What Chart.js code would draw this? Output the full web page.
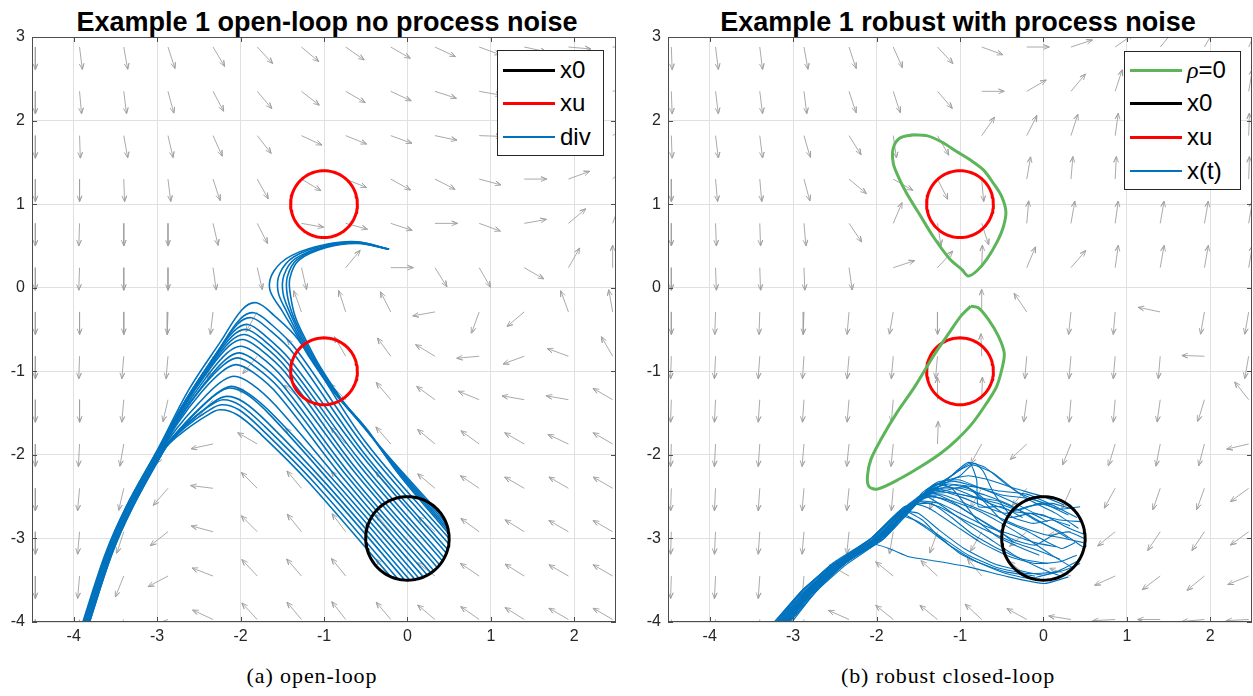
<!DOCTYPE html>
<html>
<head>
<meta charset="utf-8">
<script src="https://cdn.jsdelivr.net/npm/chart.js@4.4.1/dist/chart.umd.min.js"></script>
<style>
  body { margin: 0; width: 1253px; height: 696px; background: #fff; position: relative; overflow: hidden;
         font-family: "Liberation Sans", Arial, sans-serif; }
  .title { position: absolute; top: 9px; font-weight: bold; font-size: 27px; line-height: 27px; color: #000;
           white-space: nowrap; transform: translateX(-50%); }
  .caption { position: absolute; top: 665px; font-family: "Liberation Serif", serif; font-size: 22px; line-height: 22px;
             letter-spacing: 0.9px; color: #000; white-space: nowrap; transform: translateX(-50%); }
  .chartbox { position: absolute; top: 0; }
  .legend { position: absolute; background: #fff; border: 1px solid #262626; box-sizing: border-box; }
  .legend .ln { position: absolute; left: 5px; width: 52px; }
  .legend .lt { position: absolute; left: 62px; font-size: 24px; line-height: 28px; color: #000; white-space: nowrap; }
</style>
</head>
<body>
<div class="title" style="left:327px">Example 1 open-loop no process noise</div>
<div class="title" style="left:958px">Example 1 robust with process noise</div>

<div class="chartbox" style="left:0px"><canvas id="openLoop" width="630" height="652"></canvas></div>
<div class="chartbox" style="left:636px"><canvas id="robust" width="617" height="652"></canvas></div>

<div class="legend" style="left:497px;top:50px;width:107px;height:106px">
  <div class="ln" style="top:18px;height:3px;background:#000"></div><div class="lt" style="top:5px">x0</div>
  <div class="ln" style="top:51px;height:3px;background:#ff0000"></div><div class="lt" style="top:38px">xu</div>
  <div class="ln" style="top:85px;height:2px;background:#0072bd"></div><div class="lt" style="top:72px">div</div>
</div>
<div class="legend" style="left:1124px;top:51px;width:117px;height:139px">
  <div class="ln" style="top:17px;height:3px;background:#5db55a"></div><div class="lt" style="top:4px"><i style="font-family:'Liberation Serif',serif">ρ</i>=0</div>
  <div class="ln" style="top:50px;height:3px;background:#000"></div><div class="lt" style="top:37px">x0</div>
  <div class="ln" style="top:84px;height:3px;background:#ff0000"></div><div class="lt" style="top:71px">xu</div>
  <div class="ln" style="top:118px;height:2px;background:#0072bd"></div><div class="lt" style="top:105px">x(t)</div>
</div>

<div class="caption" style="left:312px">(a) open-loop</div>
<div class="caption" style="left:948px">(b) robust closed-loop</div>

<script>
// axis ticks
const xTicks = [-4, -3, -2, -1, 0, 1, 2];
const yTicks = [-4, -3, -2, -1, 0, 1, 2, 3];

// quiver grid (arrow tails)
const quiverX = [-4.46, -3.93, -3.40, -2.87, -2.33, -1.80, -1.27, -0.74, -0.20, 0.33, 0.86, 1.40, 1.93, 2.46];
const quiverY = [2.88, 2.35, 1.82, 1.30, 0.77, 0.24, -0.29, -0.82, -1.34, -1.87, -2.40, -2.92, -3.45, -3.97];

// arrow directions in degrees, rows top -> bottom
const openLoopAngles = [
  [-90, -83, -80, -72, -59, -47, -40, -35, -30, -25, -20, -12, -5, 0],
  [-90, -85, -83, -75, -62, -50, -38, -30, -25, -18, -10, -3, 5, 12],
  [-90, -88, -80, -77, -66, -52, -25, -22, -20, -12, -2, 8, 20, 35],
  [-90, -90, -88, -83, -72, -61, -31, -22, -29, -27, -15, 0, 20, 45],
  [-90, -92, -90, -90, -77, -63, -10, -15, -18, 0, -20, 10, 40, 70],
  [-90, -92, -90, -90, -82, -77, -77, 50, 0, -58, -60, -30, 60, 90],
  [-90, -90, -90, -92, -97, -120, 110, 108, 117, 190, -110, -140, 110, 100],
  [-90, -92, -95, -95, -105, -130, 130, 120, 126, 149, 185, -160, 160, 120],
  [-90, -90, -95, -103, -130, 150, 140, 135, 130, 144, 158, 170, 170, 150],
  [-90, -93, -100, -120, 192, 150, 135, 132, 131, 140, 144, 150, 155, 150],
  [-90, -95, -103, -131, 173, 135, 130, 130, 132, 140, 146, 150, 150, 150],
  [-90, -95, -108, -142, 165, 135, 129, 127, 130, 138, 144, 148, 150, 150],
  [-90, -95, -112, -152, 159, 133, 131, 129, 131, 143, 146, 148, 150, 150],
  [-90, -95, -115, -160, 155, 133, 130, 128, 130, 140, 145, 148, 150, 150]
];
const robustAngles = [
  [-88, -83, -83, -80, -72, -66, -47, -20, 0, 18, 35, 50, 60, 65],
  [-88, -83, -83, -83, -72, -72, -49, 0, 30, 50, 72, 75, 78, 80],
  [-88, -83, -83, -74, -58, -82, -60, 55, 63, 72, 82, 84, 86, 88],
  [-90, -85, -85, -75, -40, -30, -63, -85, 80, 85, 87, 88, 88, 88],
  [-90, -88, -88, -85, -56, 67, -81, -72, 85, 80, 82, 80, 80, 80],
  [-90, -88, -88, -88, -82, 18, 47, 88, 67, 49, 82, 80, 80, 80],
  [-90, -92, -92, -92, -95, -100, -90, 90, 124, -96, -95, 168, -100, -100],
  [-92, -93, -94, -94, -95, -95, -95, 92, -95, -95, -95, -95, 178, -100],
  [-92, -93, -94, -94, -95, -95, 90, 88, -98, -95, -95, -98, -107, 128],
  [-92, -93, -94, -95, -96, -96, 88, -119, -137, -112, -107, -101, -105, -167],
  [-92, -93, -94, -95, -96, -95, -110, -120, -130, -114, -119, -109, -110, -144],
  [-92, -93, -94, -95, -96, -100, -110, -120, -140, -172, -141, -124, -124, -144],
  [-92, -93, -94, -95, 150, 141, 137, 129, 140, 160, -156, -143, -141, -158],
  [-92, -93, -94, -100, 156, 141, 141, 137, 151, 171, 183, 180, 185, 183]
];

// sets
const x0Set = { cx: 0, cy: -3, r: 0.5 };
const xuSets = [{ cx: -1, cy: 1, r: 0.4 }, { cx: -1, cy: -1, r: 0.4 }];

// rho = 0 level sets (closed)
const rhoUpper = [-1.56,1.83, -1.72,1.79, -1.80,1.67, -1.80,1.49, -1.74,1.33, -1.64,1.13, -1.48,0.87, -1.32,0.61,
  -1.12,0.34, -0.98,0.22, -0.90,0.14, -0.80,0.20, -0.68,0.34, -0.56,0.54, -0.48,0.73, -0.45,0.91, -0.50,1.09,
  -0.60,1.25, -0.72,1.41, -0.88,1.53, -1.04,1.63, -1.23,1.75, -1.40,1.82, -1.56,1.83];
const rhoLower = [-0.87,-0.22, -0.78,-0.24, -0.66,-0.38, -0.54,-0.58, -0.47,-0.78, -0.49,-0.94, -0.56,-1.18, -0.68,-1.38,
  -0.85,-1.62, -1.04,-1.82, -1.23,-1.98, -1.47,-2.14, -1.71,-2.28, -1.99,-2.41, -2.09,-2.38, -2.11,-2.26, -2.07,-2.06,
  -1.95,-1.82, -1.76,-1.50, -1.54,-1.18, -1.32,-0.82, -1.13,-0.54, -0.99,-0.34, -0.87,-0.22];

// open-loop trajectories (x, y pairs)
const divPaths = [
  [0.435,-2.754, -0.20,-2.05, -0.60,-1.58, -0.89,-1.24, -1.17,-0.84, -1.33,-0.56, -1.50,-0.28, -1.65,-0.02, -1.60,0.20, -1.38,0.39, -0.97,0.52, -0.60,0.55, -0.22,0.46],
  [0.466,-2.820, -0.18,-2.09, -0.57,-1.61, -0.86,-1.27, -1.14,-0.86, -1.30,-0.58, -1.44,-0.30, -1.55,-0.05, -1.53,0.17, -1.36,0.37, -0.97,0.51, -0.60,0.545, -0.22,0.46],
  [0.483,-2.869, -0.16,-2.13, -0.54,-1.64, -0.83,-1.30, -1.11,-0.88, -1.27,-0.60, -1.40,-0.32, -1.49,-0.07, -1.48,0.15, -1.34,0.35, -0.97,0.50, -0.60,0.54, -0.22,0.46],
  [0.492,-2.911, -0.14,-2.17, -0.51,-1.67, -0.80,-1.33, -1.08,-0.91, -1.24,-0.62, -1.37,-0.34, -1.44,-0.09, -1.44,0.13, -1.32,0.34, -0.97,0.49, -0.60,0.535, -0.22,0.46],
  [0.497,-2.947, -0.12,-2.21, -0.48,-1.70, -0.77,-1.36, -1.05,-0.94, -1.21,-0.64, -1.34,-0.36, -1.40,-0.10, -1.41,0.11, -1.30,0.33, -0.97,0.48, -0.60,0.53, -0.22,0.46],
  [0.50,-3.00, -0.50,-1.85, -1.31,-0.62, -1.60,-0.33, -1.81,-0.18, -1.98,-0.26, -2.23,-0.63, -2.62,-1.22, -3.00,-1.95, -3.37,-2.62, -3.62,-3.18, -3.91,-4.06],
  [0.50,-3.07, -0.50,-1.92, -1.34,-0.73, -1.63,-0.44, -1.84,-0.30, -2.01,-0.38, -2.26,-0.74, -2.65,-1.33, -3.00,-1.95, -3.37,-2.62, -3.61,-3.18, -3.90,-4.06],
  [0.48,-3.13, -0.52,-1.98, -1.37,-0.78, -1.66,-0.50, -1.87,-0.36, -2.04,-0.44, -2.29,-0.79, -2.67,-1.37, -2.99,-1.95, -3.36,-2.62, -3.61,-3.18, -3.90,-4.06],
  [0.47,-3.18, -0.53,-2.03, -1.41,-0.86, -1.70,-0.58, -1.91,-0.44, -2.08,-0.52, -2.33,-0.85, -2.69,-1.40, -2.99,-1.95, -3.36,-2.62, -3.60,-3.18, -3.89,-4.06],
  [0.44,-3.23, -0.56,-2.08, -1.43,-0.91, -1.72,-0.63, -1.93,-0.50, -2.10,-0.58, -2.35,-0.90, -2.70,-1.43, -2.98,-1.95, -3.35,-2.62, -3.60,-3.18, -3.89,-4.06],
  [0.42,-3.27, -0.58,-2.12, -1.45,-0.96, -1.74,-0.68, -1.95,-0.56, -2.12,-0.64, -2.37,-0.95, -2.71,-1.46, -2.98,-1.95, -3.35,-2.62, -3.60,-3.18, -3.89,-4.06],
  [0.39,-3.32, -0.61,-2.17, -1.47,-1.01, -1.76,-0.74, -1.97,-0.62, -2.14,-0.70, -2.39,-1.00, -2.72,-1.49, -2.97,-1.95, -3.34,-2.62, -3.59,-3.18, -3.88,-4.06],
  [0.36,-3.35, -0.64,-2.20, -1.49,-1.08, -1.78,-0.81, -1.99,-0.70, -2.16,-0.78, -2.41,-1.07, -2.73,-1.53, -2.97,-1.95, -3.34,-2.62, -3.59,-3.18, -3.88,-4.06],
  [0.32,-3.39, -0.68,-2.24, -1.51,-1.15, -1.80,-0.89, -2.01,-0.78, -2.18,-0.86, -2.43,-1.14, -2.74,-1.57, -2.96,-1.95, -3.33,-2.62, -3.58,-3.18, -3.87,-4.06],
  [0.28,-3.41, -0.72,-2.26, -1.53,-1.21, -1.82,-0.95, -2.03,-0.84, -2.20,-0.92, -2.45,-1.18, -2.75,-1.59, -2.96,-1.95, -3.33,-2.62, -3.58,-3.18, -3.87,-4.06],
  [0.24,-3.44, -0.76,-2.29, -1.55,-1.28, -1.84,-1.02, -2.05,-0.92, -2.22,-1.00, -2.47,-1.25, -2.76,-1.63, -2.95,-1.95, -3.32,-2.62, -3.57,-3.18, -3.86,-4.06],
  [0.19,-3.46, -0.81,-2.31, -1.58,-1.41, -1.87,-1.15, -2.08,-1.06, -2.25,-1.14, -2.50,-1.38, -2.77,-1.69, -2.95,-1.95, -3.32,-2.62, -3.57,-3.18, -3.86,-4.06],
  [0.14,-3.48, -0.86,-2.33, -1.61,-1.52, -1.90,-1.27, -2.11,-1.18, -2.28,-1.26, -2.53,-1.49, -2.78,-1.75, -2.94,-1.95, -3.31,-2.62, -3.56,-3.18, -3.85,-4.06],
  [0.09,-3.49, -0.91,-2.34, -1.63,-1.54, -1.92,-1.28, -2.13,-1.20, -2.30,-1.28, -2.55,-1.50, -2.79,-1.76, -2.94,-1.95, -3.31,-2.62, -3.56,-3.18, -3.85,-4.06],
  [0.03,-3.50, -0.97,-2.35, -1.67,-1.62, -1.96,-1.37, -2.17,-1.30, -2.34,-1.38, -2.59,-1.59, -2.81,-1.80, -2.93,-1.95, -3.30,-2.62, -3.55,-3.18, -3.84,-4.06],
  [-0.03,-3.50, -1.03,-2.35, -1.71,-1.66, -2.00,-1.41, -2.21,-1.34, -2.38,-1.42, -2.63,-1.61, -2.83,-1.82, -2.93,-1.95, -3.30,-2.62, -3.55,-3.18, -3.84,-4.06],
  [-0.11,-3.49, -1.11,-2.34, -1.73,-1.71, -2.02,-1.46, -2.23,-1.40, -2.40,-1.48, -2.65,-1.66, -2.84,-1.84, -2.92,-1.95, -3.29,-2.62, -3.54,-3.18, -3.83,-4.06],
  [-0.20,-3.46, -1.20,-2.31, -1.75,-1.76, -2.04,-1.52, -2.25,-1.46, -2.42,-1.54, -2.67,-1.71, -2.85,-1.86, -2.92,-1.95, -3.29,-2.62, -3.54,-3.18, -3.83,-4.06]
];

// robust closed-loop trajectories with process noise (x, y pairs)
const xtPaths = [
  [0.42,-2.88, 0.15,-2.70, -0.15,-2.55, -0.45,-2.35, -0.70,-2.15, -0.90,-2.09, -1.05,-2.20, -1.25,-2.38, -1.45,-2.52, -1.57,-2.62, -1.95,-2.99, -2.40,-3.31, -2.75,-3.61, -3.13,-4.06],
  [0.30,-2.72, 0.05,-2.60, -0.30,-2.45, -0.60,-2.22, -0.85,-2.12, -1.00,-2.25, -1.20,-2.35, -1.42,-2.48, -1.54,-2.60, -1.92,-3.01, -2.37,-3.29, -2.72,-3.63, -3.10,-4.06],
  [0.47,-3.10, 0.20,-2.92, -0.10,-2.78, -0.40,-2.60, -0.70,-2.48, -1.00,-2.40, -1.25,-2.40, -1.45,-2.50, -1.60,-2.63, -1.98,-2.99, -2.43,-3.31, -2.78,-3.60, -3.16,-4.06],
  [0.48,-2.95, 0.25,-2.85, 0.00,-2.72, -0.35,-2.68, -0.65,-2.58, -0.95,-2.45, -1.20,-2.36, -1.40,-2.44, -1.64,-2.61, -2.02,-3.02, -2.47,-3.29, -2.82,-3.63, -3.20,-4.06],
  [0.35,-3.35, 0.10,-3.20, -0.20,-3.00, -0.50,-2.82, -0.80,-2.66, -1.10,-2.55, -1.35,-2.45, -1.62,-2.62, -2.00,-3.00, -2.45,-3.32, -2.80,-3.60, -3.18,-4.06],
  [0.20,-3.45, -0.05,-3.35, -0.35,-3.20, -0.65,-3.00, -0.95,-2.80, -1.20,-2.62, -1.40,-2.50, -1.66,-2.63, -2.04,-2.98, -2.49,-3.30, -2.84,-3.62, -3.22,-4.06],
  [0.30,-3.46, 0.01,-3.54, -0.42,-3.46, -0.90,-3.34, -1.30,-3.27, -1.61,-3.22, -1.85,-3.12, -2.10,-3.06, -2.55,-3.33, -2.90,-3.63, -3.28,-4.06],
  [0.45,-3.25, 0.15,-3.40, -0.20,-3.42, -0.55,-3.35, -0.90,-3.20, -1.20,-3.00, -1.50,-2.80, -1.75,-2.72, -2.07,-3.01, -2.52,-3.31, -2.87,-3.61, -3.25,-4.06],
  [0.10,-2.60, -0.20,-2.52, -0.50,-2.48, -0.75,-2.40, -1.00,-2.30, -1.25,-2.32, -1.45,-2.45, -1.56,-2.60, -1.94,-3.00, -2.39,-3.30, -2.74,-3.62, -3.12,-4.06],
  [-0.35,-3.05, -0.55,-2.90, -0.80,-2.75, -1.05,-2.60, -1.30,-2.50, -1.50,-2.52, -1.65,-2.64, -2.03,-3.01, -2.48,-3.32, -2.83,-3.60, -3.21,-4.06],
  [0.35,-2.65, 0.10,-2.58, -0.20,-2.62, -0.45,-2.70, -0.70,-2.62, -1.00,-2.50, -1.30,-2.42, -1.50,-2.50, -1.59,-2.61, -1.97,-2.98, -2.42,-3.31, -2.77,-3.63, -3.15,-4.06],
  [0.15,-3.10, -0.10,-3.05, -0.40,-2.95, -0.70,-2.85, -1.00,-2.70, -1.25,-2.58, -1.50,-2.55, -1.63,-2.63, -2.01,-3.00, -2.46,-3.29, -2.81,-3.62, -3.19,-4.06],
  [0.40,-3.20, 0.20,-3.28, -0.10,-3.30, -0.40,-3.22, -0.75,-3.05, -1.05,-2.85, -1.35,-2.65, -1.55,-2.58, -1.68,-2.64, -2.06,-3.02, -2.51,-3.31, -2.86,-3.61, -3.24,-4.06],
  [-0.25,-2.75, -0.50,-2.62, -0.78,-2.62, -0.80,-2.30, -0.88,-2.10, -1.10,-2.25, -1.35,-2.40, -1.55,-2.61, -1.93,-2.99, -2.38,-3.30, -2.73,-3.61, -3.11,-4.06],
  [0.48,-3.05, 0.25,-3.00, 0.00,-2.95, -0.30,-2.85, -0.60,-2.72, -0.90,-2.60, -1.20,-2.48, -1.45,-2.50, -1.61,-2.63, -1.99,-3.01, -2.44,-3.30, -2.79,-3.62, -3.17,-4.06],
  [0.05,-3.30, -0.25,-3.25, -0.55,-3.12, -0.85,-2.95, -1.10,-2.75, -1.35,-2.58, -1.67,-2.62, -2.05,-2.99, -2.50,-3.31, -2.85,-3.62, -3.23,-4.06],
  [0.25,-2.60, 0.00,-2.50, -0.35,-2.40, -0.65,-2.30, -0.90,-2.25, -1.15,-2.30, -1.40,-2.42, -1.53,-2.60, -1.91,-3.00, -2.36,-3.31, -2.71,-3.62, -3.09,-4.06],
  [0.46,-2.80, 0.20,-2.78, -0.10,-2.70, -0.40,-2.55, -0.75,-2.40, -1.05,-2.32, -1.30,-2.36, -1.58,-2.62, -1.96,-3.01, -2.41,-3.30, -2.76,-3.61, -3.14,-4.06],
  [0.30,-3.00, 0.05,-2.85, -0.25,-2.68, -0.55,-2.55, -0.85,-2.50, -1.15,-2.45, -1.40,-2.48, -1.62,-2.63, -2.00,-2.99, -2.45,-3.31, -2.80,-3.62, -3.18,-4.06],
  [-0.10,-3.45, -0.45,-3.40, -0.80,-3.28, -1.10,-3.10, -1.40,-2.88, -1.65,-2.72, -1.75,-2.70, -2.08,-3.01, -2.53,-3.30, -2.88,-3.62, -3.26,-4.06],
  [0.40,-2.75, 0.15,-2.62, -0.20,-2.47, -0.55,-2.43, -0.85,-2.38, -1.15,-2.35, -1.38,-2.43, -1.57,-2.61, -1.95,-3.00, -2.40,-3.30, -2.75,-3.62, -3.13,-4.06],
  [0.20,-3.25, -0.05,-3.15, -0.35,-3.05, -0.65,-2.92, -0.95,-2.78, -1.25,-2.62, -1.48,-2.56, -1.64,-2.63, -2.02,-3.00, -2.47,-3.31, -2.82,-3.61, -3.20,-4.06],
  [0.44,-2.62, 0.20,-2.65, -0.05,-2.58, -0.30,-2.66, -0.55,-2.58, -0.80,-2.52, -1.05,-2.46, -1.30,-2.40, -1.52,-2.55, -1.90,-2.97, -2.35,-3.28, -2.70,-3.60, -3.06,-4.06],
  [0.15,-3.40, -0.15,-3.48, -0.45,-3.42, -0.75,-3.30, -1.00,-3.18, -1.25,-2.98, -1.45,-2.78, -1.70,-2.66, -2.06,-3.00, -2.50,-3.33, -2.86,-3.64, -3.24,-4.06],
  [0.38,-3.05, 0.22,-3.12, 0.00,-3.02, -0.22,-2.90, -0.50,-2.78, -0.72,-2.55, -0.92,-2.38, -1.15,-2.42, -1.38,-2.47, -1.60,-2.62, -1.98,-3.02, -2.42,-3.30, -2.78,-3.62, -3.16,-4.06],
  [0.05,-2.80, -0.15,-2.70, -0.40,-2.75, -0.62,-2.60, -0.85,-2.42, -1.08,-2.36, -1.32,-2.44, -1.58,-2.64, -1.96,-2.98, -2.41,-3.32, -2.76,-3.60, -3.14,-4.06],
  [0.49,-3.00, 0.30,-2.92, 0.12,-2.96, -0.10,-3.08, -0.35,-3.02, -0.60,-2.88, -0.88,-2.70, -1.12,-2.55, -1.36,-2.50, -1.63,-2.62, -2.01,-2.99, -2.46,-3.30, -2.81,-3.61, -3.19,-4.06],
  [-0.05,-3.20, -0.30,-3.10, -0.55,-2.98, -0.78,-2.80, -0.95,-2.58, -1.10,-2.40, -1.30,-2.35, -1.55,-2.58, -1.93,-3.01, -2.38,-3.29, -2.73,-3.62, -3.11,-4.06],
  [0.32,-2.85, 0.10,-2.78, -0.12,-2.82, -0.38,-2.74, -0.60,-2.45, -0.72,-2.20, -0.82,-2.10, -1.00,-2.18, -1.20,-2.32, -1.45,-2.47, -1.59,-2.62, -1.97,-3.00, -2.42,-3.31, -2.77,-3.61, -3.15,-4.06],
  [0.44,-3.30, 0.25,-3.38, 0.00,-3.44, -0.30,-3.38, -0.60,-3.30, -0.95,-3.12, -1.25,-2.90, -1.50,-2.70, -1.72,-2.68, -2.09,-3.02, -2.54,-3.32, -2.89,-3.62, -3.27,-4.06]
];

const ARROW_LEN = 0.27;
const HEAD_LEN = 0.075;
const HEAD_ANG = 22 * Math.PI / 180;

function pairs(a) {
  const p = [];
  for (let i = 0; i < a.length; i += 2) p.push({ x: a[i], y: a[i + 1] });
  return p;
}

function circlePts(c) {
  const p = [];
  for (let k = 0; k <= 96; k++) {
    const t = k / 96 * 2 * Math.PI;
    p.push({ x: c.cx + c.r * Math.cos(t), y: c.cy + c.r * Math.sin(t) });
  }
  return p;
}

// each arrow: tail -> head -> barb -> head -> barb, then a gap
function quiverPts(angles) {
  const p = [];
  quiverY.forEach((y, r) => {
    quiverX.forEach((x, c) => {
      const a = angles[r][c] * Math.PI / 180;
      const hx = x + ARROW_LEN * Math.cos(a), hy = y + ARROW_LEN * Math.sin(a);
      const b1 = a + Math.PI - HEAD_ANG, b2 = a + Math.PI + HEAD_ANG;
      p.push({ x, y }, { x: hx, y: hy },
        { x: hx + HEAD_LEN * Math.cos(b1), y: hy + HEAD_LEN * Math.sin(b1) },
        { x: hx, y: hy },
        { x: hx + HEAD_LEN * Math.cos(b2), y: hy + HEAD_LEN * Math.sin(b2) },
        { x: NaN, y: NaN });
    });
  });
  return p;
}

function lineDs(data, color, width, order, tension) {
  return { data, borderColor: color, borderWidth: width, showLine: true, pointRadius: 0,
           fill: false, tension: tension || 0, order, borderJoinStyle: 'round' };
}

// MATLAB-like box with inward ticks
const boxPlugin = {
  id: 'box',
  afterDatasetsDraw(chart) {
    const { ctx, chartArea: a, scales } = chart;
    ctx.save();
    ctx.strokeStyle = '#4d4d4d';
    ctx.lineWidth = 1;
    ctx.strokeRect(a.left + 0.5, a.top + 0.5, a.width - 1, a.height - 1);
    ctx.beginPath();
    xTicks.forEach(v => {
      const px = Math.round(scales.x.getPixelForValue(v)) + 0.5;
      ctx.moveTo(px, a.bottom); ctx.lineTo(px, a.bottom - 5);
      ctx.moveTo(px, a.top); ctx.lineTo(px, a.top + 5);
    });
    yTicks.forEach(v => {
      const py = Math.round(scales.y.getPixelForValue(v)) + 0.5;
      ctx.moveTo(a.left, py); ctx.lineTo(a.left + 5, py);
      ctx.moveTo(a.right, py); ctx.lineTo(a.right - 5, py);
    });
    ctx.stroke();
    ctx.restore();
  }
};

function makeChart(id, datasets, padRight) {
  const tickFont = { family: '"Liberation Sans", Arial, sans-serif', size: 16 };
  return new Chart(document.getElementById(id), {
    type: 'scatter',
    data: { datasets },
    options: {
      responsive: false, animation: false, events: [], devicePixelRatio: 1,
      layout: { padding: { top: 37, right: padRight, bottom: 0, left: 0 } },
      elements: { line: { capBezierPoints: false }, point: { radius: 0 } },
      plugins: { legend: { display: false }, tooltip: { enabled: false } },
      scales: {
        x: {
          type: 'linear', min: -4.5, max: 2.5,
          afterBuildTicks: s => { s.ticks = xTicks.map(v => ({ value: v })); },
          afterFit: s => { s.height = 30; },
          grid: { color: '#e0e0e0', drawTicks: false },
          border: { display: false },
          ticks: { padding: 5, color: '#262626', font: tickFont, maxRotation: 0, autoSkip: false }
        },
        y: {
          type: 'linear', min: -4, max: 3,
          afterBuildTicks: s => { s.ticks = yTicks.map(v => ({ value: v })); },
          afterFit: s => { s.width = 32; },
          grid: { color: '#e0e0e0', drawTicks: false },
          border: { display: false },
          ticks: { padding: 7, color: '#262626', font: tickFont, autoSkip: false }
        }
      }
    },
    plugins: [boxPlugin]
  });
}

const BLUE = '#0072bd', RED = '#ff0000', GREEN = '#5db55a', GRAY = '#a0a0a0';

// (a) open-loop
const openSets = [lineDs(quiverPts(openLoopAngles), GRAY, 0.9, 10)];
divPaths.forEach(p => openSets.push(lineDs(pairs(p), BLUE, 1.6, 5, 0.35)));
xuSets.forEach(c => openSets.push(lineDs(circlePts(c), RED, 3, 1)));
openSets.push(lineDs(circlePts(x0Set), '#000000', 3, 1));
makeChart('openLoop', openSets, 14);

// (b) robust closed-loop
const robustSets = [lineDs(quiverPts(robustAngles), GRAY, 0.9, 10)];
xtPaths.forEach(p => robustSets.push(lineDs(pairs(p), BLUE, 1.1, 5, 0.15)));
robustSets.push(lineDs(pairs(rhoUpper), GREEN, 3, 0, 0.3));
robustSets.push(lineDs(pairs(rhoLower), GREEN, 3, 0, 0.3));
xuSets.forEach(c => robustSets.push(lineDs(circlePts(c), RED, 3, 1)));
robustSets.push(lineDs(circlePts(x0Set), '#000000', 3, 1));
makeChart('robust', robustSets, 1);
</script>
</body>
</html>
